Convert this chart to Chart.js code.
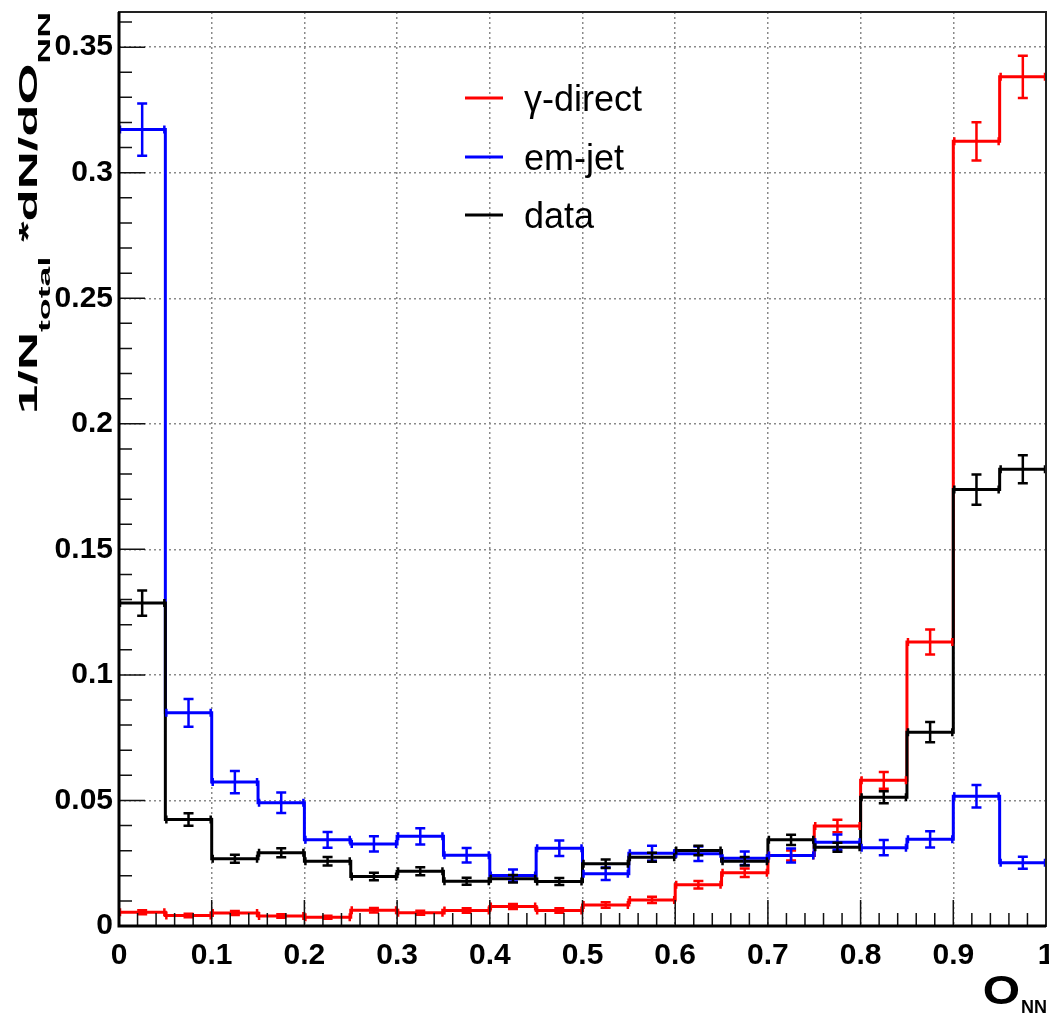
<!DOCTYPE html>
<html>
<head>
<meta charset="utf-8">
<script src="https://cdn.jsdelivr.net/npm/chart.js@4.4.1/dist/chart.umd.min.js"></script>
<style>
  body { margin: 0; background: #fff; }
  canvas { display: block; }
</style>
</head>
<body>
<canvas id="onnChart" width="1049" height="1018"></canvas>
<script>
// Bin edges of the O_NN histograms (20 bins of 0.05)
const binEdges = [0, 0.05, 0.1, 0.15, 0.2, 0.25, 0.3, 0.35, 0.4, 0.45, 0.5,
                  0.55, 0.6, 0.65, 0.7, 0.75, 0.8, 0.85, 0.9, 0.95, 1.0];

// Normalised contents per bin
const gammaDirect = [0.0055, 0.0042, 0.0052, 0.0040, 0.0035, 0.0063, 0.0053, 0.0062, 0.0078, 0.0062,
                     0.0084, 0.0104, 0.0164, 0.0212, 0.0281, 0.0398, 0.0580, 0.1131, 0.3125, 0.3382];
const emJet       = [0.3172, 0.0849, 0.0573, 0.0491, 0.0343, 0.0327, 0.0357, 0.0282, 0.0201, 0.0310,
                     0.0208, 0.0290, 0.0288, 0.0270, 0.0281, 0.0334, 0.0312, 0.0345, 0.0517, 0.0252];
const dataHist    = [0.1286, 0.0424, 0.0268, 0.0292, 0.0258, 0.0197, 0.0218, 0.0178, 0.0188, 0.0177,
                     0.0248, 0.0274, 0.0301, 0.0258, 0.0343, 0.0314, 0.0513, 0.0772, 0.1738, 0.1819];

// Statistical errors per bin
const gammaDirectErr = [0.0008, 0.0007, 0.0008, 0.0007, 0.0006, 0.0009, 0.0008, 0.0009, 0.0010, 0.0009,
                        0.0011, 0.0012, 0.0015, 0.0017, 0.0020, 0.0025, 0.0033, 0.0050, 0.0076, 0.0084];
const emJetErr       = [0.0104, 0.0055, 0.0044, 0.0041, 0.0031, 0.0030, 0.0032, 0.0029, 0.0024, 0.0031,
                        0.0025, 0.0030, 0.0029, 0.0027, 0.0028, 0.0030, 0.0030, 0.0032, 0.0045, 0.0024];
const dataHistErr    = [0.0050, 0.0025, 0.0016, 0.0018, 0.0017, 0.0015, 0.0016, 0.0014, 0.0015, 0.0014,
                        0.0017, 0.0018, 0.0019, 0.0017, 0.0020, 0.0018, 0.0024, 0.0040, 0.0060, 0.0056];

// Axis tick labels
const xTicks = ['0', '0.1', '0.2', '0.3', '0.4', '0.5', '0.6', '0.7', '0.8', '0.9', '1'];
const yTicks = ['0', '0.05', '0.1', '0.15', '0.2', '0.25', '0.3', '0.35'];

const legendLabels = ['\u03b3-direct', 'em-jet', 'data'];

const RED = '#ff0000';
const BLUE = '#0000ff';
const BLACK = '#000000';
const FONT = '"Liberation Sans", Arial, Helvetica, sans-serif';

// Stepped outline: one point per lower edge, plus the last upper edge
function stepPoints(values) {
    const pts = values.map((v, i) => ({ x: binEdges[i], y: v }));
    pts.push({ x: binEdges[binEdges.length - 1], y: values[values.length - 1] });
    return pts;
}

function histDataset(label, values, errors, color, order) {
    return {
        label: label,
        data: stepPoints(values),
        values: values,
        errors: errors,
        borderColor: color,
        backgroundColor: color,
        borderWidth: 3,
        // horizontal to the next edge, then vertical
        stepped: 'before',
        pointRadius: 0,
        fill: false,
        order: order
    };
}

// Error bars: vertical error with caps, end marks of the bin width
const errorBarPlugin = {
    id: 'errorBars',
    afterDatasetsDraw(chart) {
        const ctx = chart.ctx;
        const xs = chart.scales.x;
        const ys = chart.scales.y;
        const area = chart.chartArea;
        ctx.save();
        ctx.beginPath();
        ctx.rect(area.left, area.top, area.right - area.left, area.bottom - area.top);
        ctx.clip();
        [0, 1, 2].forEach(di => {
            const ds = chart.data.datasets[di];
            ctx.strokeStyle = ds.borderColor;
            ctx.lineWidth = 2.5;
            ds.values.forEach((v, i) => {
                const x0 = xs.getPixelForValue(binEdges[i]);
                const x1 = xs.getPixelForValue(binEdges[i + 1]);
                const xc = (x0 + x1) / 2;
                const y = ys.getPixelForValue(v);
                const yHi = ys.getPixelForValue(v + ds.errors[i]);
                const yLo = ys.getPixelForValue(v - ds.errors[i]);
                ctx.beginPath();
                ctx.moveTo(xc, yHi);
                ctx.lineTo(xc, yLo);
                ctx.moveTo(xc - 5, yHi);
                ctx.lineTo(xc + 5, yHi);
                ctx.moveTo(xc - 5, yLo);
                ctx.lineTo(xc + 5, yLo);
                ctx.moveTo(x0 + 1, y - 4);
                ctx.lineTo(x0 + 1, y + 4);
                ctx.moveTo(x1 - 1, y - 4);
                ctx.lineTo(x1 - 1, y + 4);
                ctx.stroke();
            });
        });
        ctx.restore();
    }
};

// Frame, inward ticks, axis titles and legend
const framePlugin = {
    id: 'frame',
    afterDraw(chart) {
        const ctx = chart.ctx;
        const xs = chart.scales.x;
        const ys = chart.scales.y;
        const a = chart.chartArea;
        ctx.save();

        // ticks on the bottom and left axes
        ctx.strokeStyle = '#111';
        ctx.lineWidth = 1.5;
        ctx.beginPath();
        for (let k = 0; k <= 50; k++) {
            const px = xs.getPixelForValue(k * 0.02);
            const len = k % 5 === 0 ? 26 : 13;
            ctx.moveTo(px, a.bottom);
            ctx.lineTo(px, a.bottom - len);
        }
        for (let k = 0; k <= 36; k++) {
            const py = ys.getPixelForValue(k * 0.01);
            const len = k % 5 === 0 ? 26 : 13;
            ctx.moveTo(a.left, py);
            ctx.lineTo(a.left + len, py);
        }
        ctx.stroke();

        // frame
        ctx.lineWidth = 2;
        ctx.strokeStyle = '#222';
        ctx.strokeRect(a.left, a.top, a.right - a.left, a.bottom - a.top);
        ctx.lineWidth = 3;
        ctx.strokeStyle = '#000';
        ctx.beginPath();
        ctx.moveTo(a.left, a.top);
        ctx.lineTo(a.left, a.bottom);
        ctx.lineTo(a.right, a.bottom);
        ctx.stroke();

        // y title: 1/N_total *dN/dO_NN, stretched along its length
        const mainFont = 'bold 25px ' + FONT;
        const subFont = 'bold 17px ' + FONT;
        const parts = [
            { t: '1/N', f: mainFont, dy: 0 },
            { t: 'total', f: subFont, dy: 13 },
            { t: ' ', f: mainFont, dy: 0 },
            { t: '*', f: mainFont, dy: 0 },
            { t: 'dN/dO', f: mainFont, dy: 0 },
            { t: 'NN', f: subFont, dy: 13 }
        ];
        let total = 0;
        parts.forEach(p => { ctx.font = p.f; p.w = ctx.measureText(p.t).width; total += p.w; });
        const span = 402;
        ctx.translate(37, 414);
        ctx.rotate(-Math.PI / 2);
        ctx.scale(span / total, 1);
        ctx.fillStyle = '#000';
        ctx.textBaseline = 'alphabetic';
        ctx.textAlign = 'left';
        let pos = 0;
        parts.forEach(p => {
            ctx.font = p.f;
            ctx.fillText(p.t, pos, p.dy);
            pos += p.w;
        });
        ctx.setTransform(1, 0, 0, 1, 0, 0);

        // x title: O_NN
        ctx.fillStyle = '#000';
        ctx.textAlign = 'left';
        ctx.font = 'bold 18px ' + FONT;
        const nnW = ctx.measureText('NN').width;
        ctx.fillText('NN', 1047 - nnW, 1013);
        ctx.save();
        ctx.font = 'bold 40px ' + FONT;
        const oW = ctx.measureText('O').width * 1.2;
        ctx.translate(1047 - nnW - oW - 1, 1004);
        ctx.scale(1.2, 1);
        ctx.fillText('O', 0, 0);
        ctx.restore();

        // legend
        const legendColors = [RED, BLUE, BLACK];
        const legendY = [98, 157, 215];
        ctx.font = '36px ' + FONT;
        legendLabels.forEach((lab, i) => {
            ctx.strokeStyle = legendColors[i];
            ctx.lineWidth = 3;
            ctx.beginPath();
            ctx.moveTo(465, legendY[i]);
            ctx.lineTo(503, legendY[i]);
            ctx.stroke();
            ctx.fillStyle = '#000';
            ctx.fillText(lab, 524, legendY[i] + 13);
        });

        ctx.restore();
    }
};

const gridStyle = {
    color: '#8a8a8a',
    lineWidth: 1.5,
    drawTicks: false
};

// keep the plot frame fixed: no extra room for overhanging tick labels
function fixPadding(scale) {
    scale.paddingLeft = 0;
    scale.paddingRight = 0;
    scale.paddingTop = 0;
    scale.paddingBottom = 0;
}

new Chart(document.getElementById('onnChart'), {
    type: 'line',
    data: {
        datasets: [
            histDataset(legendLabels[0], gammaDirect, gammaDirectErr, RED, 3),
            histDataset(legendLabels[1], emJet, emJetErr, BLUE, 2),
            histDataset(legendLabels[2], dataHist, dataHistErr, BLACK, 1)
        ]
    },
    options: {
        responsive: false,
        animation: false,
        layout: { padding: { top: 12, right: 3, left: 0, bottom: 0 } },
        plugins: {
            legend: { display: false },
            tooltip: { enabled: false }
        },
        scales: {
            x: {
                type: 'linear',
                min: 0,
                max: 1,
                grid: gridStyle,
                border: { display: false, dash: [2, 3] },
                afterBuildTicks: scale => {
                    scale.ticks = xTicks.map(t => ({ value: parseFloat(t) }));
                },
                afterFit: scale => { scale.height = 92; fixPadding(scale); },
                ticks: {
                    color: '#000',
                    padding: 12,
                    maxRotation: 0,
                    font: { family: FONT, size: 30, weight: 'bold' },
                    callback: (value, index) => xTicks[index]
                }
            },
            y: {
                type: 'linear',
                min: 0,
                max: 0.364,
                grid: gridStyle,
                border: { display: false, dash: [2, 3] },
                afterBuildTicks: scale => {
                    scale.ticks = yTicks.map(t => ({ value: parseFloat(t) }));
                },
                afterFit: scale => { scale.width = 119; fixPadding(scale); },
                ticks: {
                    color: '#000',
                    padding: 6,
                    font: { family: FONT, size: 30, weight: 'bold' },
                    callback: (value, index) => yTicks[index]
                }
            }
        }
    },
    plugins: [errorBarPlugin, framePlugin]
});
</script>
</body>
</html>
